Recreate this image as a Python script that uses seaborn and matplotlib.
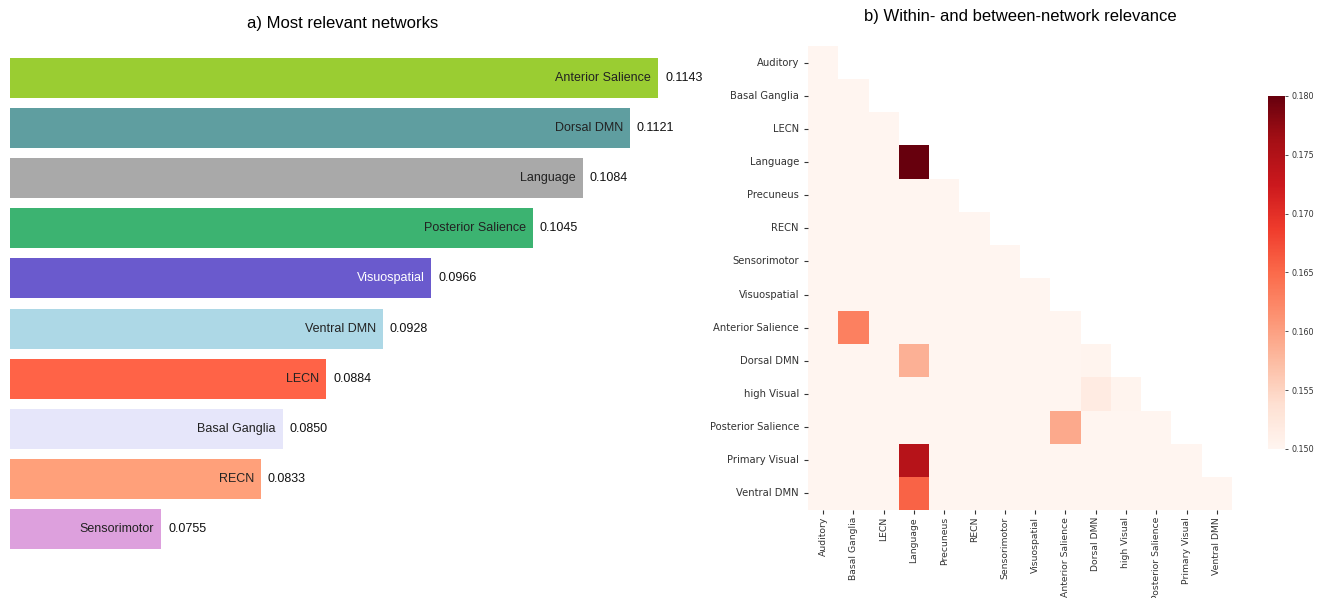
import numpy as np
import pandas as pd
import matplotlib
matplotlib.use("Agg")
import matplotlib.pyplot as plt
from matplotlib import font_manager
import seaborn as sns

# ---------------- data ----------------
bar_networks = ["Anterior Salience", "Dorsal DMN", "Language", "Posterior Salience",
                "Visuospatial", "Ventral DMN", "LECN", "Basal Ganglia", "RECN", "Sensorimotor"]
bar_values = [0.1143, 0.1121, 0.1084, 0.1045, 0.0966, 0.0928, 0.0884, 0.0850, 0.0833, 0.0755]
bar_colors = ["#9ACD32", "#5F9EA0", "#A9A9A9", "#3CB371", "#6A5ACD",
              "#ADD8E6", "#FF6347", "#E6E6FA", "#FFA07A", "#DDA0DD"]
label_colors = ["#222222", "#222222", "#222222", "#222222", "white",
                "#222222", "#222222", "#222222", "#222222", "#222222"]

heat_networks = ["Auditory", "Basal Ganglia", "LECN", "Language", "Precuneus", "RECN",
                 "Sensorimotor", "Visuospatial", "Anterior Salience", "Dorsal DMN",
                 "high Visual", "Posterior Salience", "Primary Visual", "Ventral DMN"]
n = np.nan
heat_values = [
    [0.1500, n, n, n, n, n, n, n, n, n, n, n, n, n],
    [0.1500, 0.1500, n, n, n, n, n, n, n, n, n, n, n, n],
    [0.1500, 0.1500, 0.1500, n, n, n, n, n, n, n, n, n, n, n],
    [0.1500, 0.1500, 0.1500, 0.1810, n, n, n, n, n, n, n, n, n, n],
    [0.1500, 0.1500, 0.1500, 0.1500, 0.1500, n, n, n, n, n, n, n, n, n],
    [0.1500, 0.1500, 0.1500, 0.1500, 0.1500, 0.1500, n, n, n, n, n, n, n, n],
    [0.1500, 0.1500, 0.1500, 0.1500, 0.1500, 0.1500, 0.1500, n, n, n, n, n, n, n],
    [0.1500, 0.1500, 0.1500, 0.1500, 0.1500, 0.1500, 0.1500, 0.1500, n, n, n, n, n, n],
    [0.1500, 0.1630, 0.1500, 0.1500, 0.1500, 0.1500, 0.1500, 0.1500, 0.1500, n, n, n, n, n],
    [0.1500, 0.1500, 0.1500, 0.1585, 0.1500, 0.1500, 0.1500, 0.1500, 0.1500, 0.1503, n, n, n, n],
    [0.1500, 0.1500, 0.1500, 0.1500, 0.1500, 0.1500, 0.1500, 0.1500, 0.1500, 0.1518, 0.1503, n, n, n],
    [0.1500, 0.1500, 0.1500, 0.1500, 0.1500, 0.1500, 0.1500, 0.1500, 0.1592, 0.1500, 0.1500, 0.1501, n, n],
    [0.1500, 0.1500, 0.1500, 0.1745, 0.1500, 0.1500, 0.1500, 0.1500, 0.1500, 0.1500, 0.1500, 0.1500, 0.1501, n],
    [0.1500, 0.1500, 0.1500, 0.1655, 0.1500, 0.1500, 0.1500, 0.1500, 0.1500, 0.1500, 0.1500, 0.1500, 0.1500, 0.1501],
]
cbar_ticks = [0.150, 0.155, 0.160, 0.165, 0.170, 0.175, 0.180]

# ---------------- fonts ----------------
available = {f.name for f in font_manager.fontManager.ttflist}
narrow = "Liberation Sans Narrow" if "Liberation Sans Narrow" in available else "Liberation Sans"

fig = plt.figure(figsize=(13.2, 5.98), dpi=100)

# ---------------- left: bar chart ----------------
ax1 = fig.add_axes([10 / 1320, 44 / 598, 666 / 1320, 501 / 598])
df = pd.DataFrame({"network": bar_networks, "value": bar_values})
sns.barplot(data=df, x="value", y="network", hue="network", palette=bar_colors,
            legend=False, orient="h", width=0.8, ax=ax1, saturation=1)
ax1.set_xlim(0.0637, 0.1157)
ax1.set_ylim(len(bar_networks) - 0.5, -0.5)
ax1.axis("off")
for i, (name, v) in enumerate(zip(bar_networks, bar_values)):
    ax1.annotate(name, xy=(v, i), xytext=(-5, 0), textcoords="offset points",
                 ha="right", va="center", fontsize=9, color=label_colors[i],
                 family=narrow)
    ax1.annotate(f"{v:.4f}", xy=(v, i), xytext=(5, 0), textcoords="offset points",
                 ha="left", va="center", fontsize=9, color="#111111",
                 family=narrow, annotation_clip=False)
ax1.set_title("a) Most relevant networks", fontsize=12, family="Liberation Sans", pad=18)

# ---------------- right: heatmap ----------------
ax2 = fig.add_axes([808 / 1320, 88 / 598, 424 / 1320, 464 / 598])
cax = fig.add_axes([1268 / 1320, 149 / 598, 17 / 1320, 353 / 598])
hm = pd.DataFrame(heat_values, index=heat_networks, columns=heat_networks)
mask = np.triu(np.ones((len(heat_networks), len(heat_networks)), dtype=bool), k=1)
sns.heatmap(hm, mask=mask, cmap="Reds", vmin=0.150, vmax=0.180, ax=ax2, cbar_ax=cax,
            cbar_kws={"ticks": cbar_ticks})
ax2.tick_params(axis="y", labelsize=7.2, colors="#333333", length=3, width=0.8)
ax2.tick_params(axis="x", labelsize=6.7, colors="#333333", length=3, width=0.8, pad=2)
ax2.set_xticklabels(heat_networks, rotation=90)
ax2.set_yticklabels(heat_networks, rotation=0)
ax2.set_xlabel("")
ax2.set_ylabel("")
cax.tick_params(labelsize=5.8, colors="#333333", length=2.5, width=0.6, pad=2)
cax.set_yticklabels([f"{t:.3f}" for t in cbar_ticks])
ax2.set_title("b) Within- and between-network relevance", fontsize=12,
              family="Liberation Sans", pad=18)

fig.savefig("out.png", dpi=100, facecolor="white")
